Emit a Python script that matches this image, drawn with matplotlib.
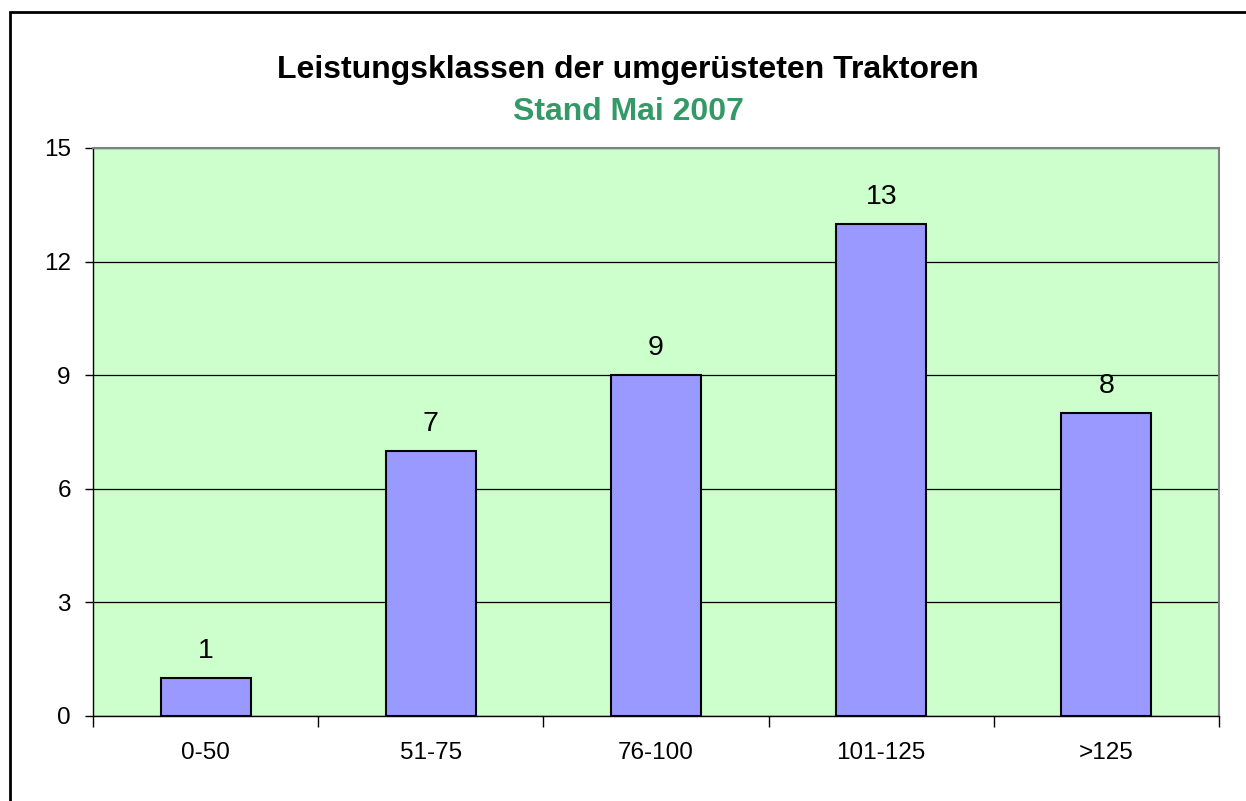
import matplotlib
matplotlib.use("Agg")
import matplotlib.pyplot as plt
from matplotlib.patches import Rectangle

plt.rcParams['font.family'] = ['Liberation Sans', 'DejaVu Sans']

categories = ["0-50", "51-75", "76-100", "101-125", ">125"]
values = [1, 7, 9, 13, 8]
yticks = [0, 3, 6, 9, 12, 15]
title = "Leistungsklassen der umgerüsteten Traktoren"
subtitle = "Stand Mai 2007"

fig = plt.figure(figsize=(12.46, 8.01), dpi=100)
fig.patch.set_facecolor("white")
# outer chart border (left/top visible)
fig.add_artist(Rectangle((10/1246, -0.05), 1.2, (801-12)/801 + 0.05,
                         transform=fig.transFigure, fill=False,
                         edgecolor="black", linewidth=2))

ax = fig.add_axes([93/1246, (801-716)/801, (1219-93)/1246, (716-148)/801])
ax.set_facecolor("#CCFFCC")

x = list(range(len(categories)))
ax.bar(x, values, width=0.4, color="#9999FF", edgecolor="black", linewidth=1.5, zorder=3)
for xi, v in zip(x, values):
    ax.annotate(str(v), (xi, v), xytext=(0, 10), textcoords="offset points",
                ha="center", va="bottom", fontsize=20.5, zorder=4)

ax.set_xlim(-0.5, len(categories) - 0.5)
ax.set_ylim(0, 15)
ax.set_yticks(yticks)
ax.set_yticklabels([str(t) for t in yticks], fontsize=17.5)
ax.yaxis.grid(True, color="black", linewidth=0.9, zorder=1)
ax.set_axisbelow(True)

ax.set_xticks([i + 0.5 for i in range(-1, len(categories))], minor=False)
ax.set_xticklabels([])
ax.set_xticks(x, minor=True)
ax.set_xticklabels(categories, minor=True, fontsize=17.5)
ax.tick_params(axis="x", which="major", direction="out", length=8, width=1, color="black")
ax.tick_params(axis="x", which="minor", length=0, pad=19)
ax.tick_params(axis="y", direction="out", length=6, width=1, pad=10)

for s in ["top", "right"]:
    ax.spines[s].set_color("#808080")
    ax.spines[s].set_linewidth(1.5)
ax.spines["left"].set_color("black")
ax.spines["bottom"].set_color("black")
ax.spines["left"].set_linewidth(1)
ax.spines["bottom"].set_linewidth(1)

fig.text(628/1246, 1 - 78/801, title, ha="center", va="baseline",
         fontsize=23, fontweight="bold", color="black")
fig.text(628/1246, 1 - 120/801, subtitle, ha="center", va="baseline",
         fontsize=23, fontweight="bold", color="#339966")

fig.savefig("out.png", dpi=100)
